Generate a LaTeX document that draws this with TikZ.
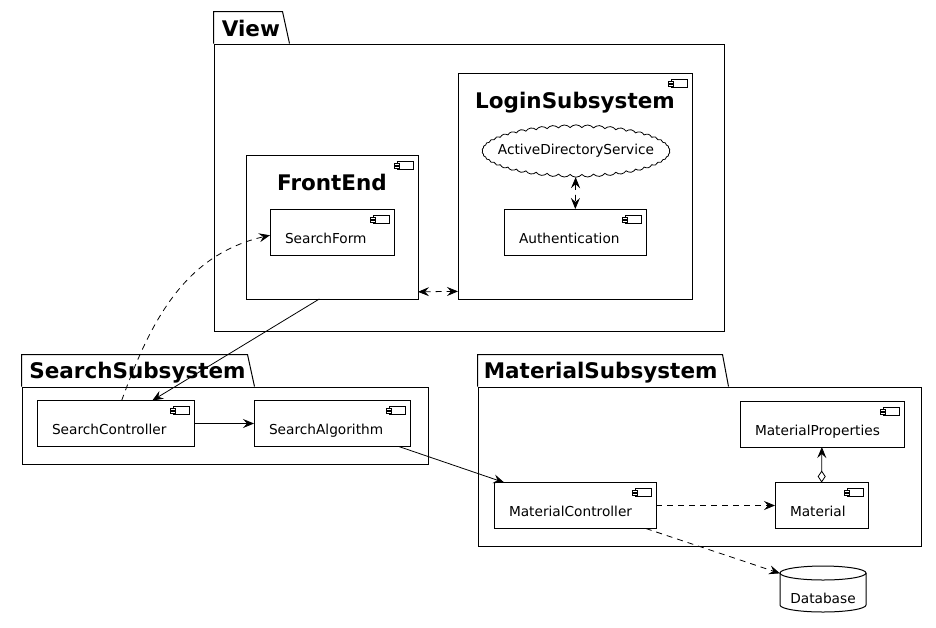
\documentclass[tikz,border=0pt]{standalone}
\usepackage{fontspec}
\setmainfont{DejaVu Sans}
\usepackage{tkz-graph}
\usetikzlibrary{arrows.meta}
\usetikzlibrary{shapes.symbols}

% small component icon in the upper right corner of a box
\newcommand{\CompIcon}[1]{%
	\draw[line width = 0.8pt, fill = white] (#1.north east) ++(-21, 6) rectangle ++(16, 8);
	\draw[line width = 0.8pt, fill = white] (#1.north east) ++(-24, 8) rectangle ++(5, 2);
	\draw[line width = 0.8pt, fill = white] (#1.north east) ++(-24, 11) rectangle ++(5, 2);
}

\begin{document}
\begin{tikzpicture}[x = 1pt, y = -1pt, line width = 1pt, font = \fontsize{13.7}{16}\selectfont, >={Stealth[length = 11pt, width = 9pt, inset = 4pt]}]
	\tikzstyle{VertexStyle} = []
	\tikzstyle{EdgeStyle} = []
	\tikzstyle{LabelStyle} = [inner sep = 0pt]
	\tikzstyle{titleFont} = [font = \fontsize{21.5}{26}\selectfont\bfseries]
	\tikzstyle{packageStyle} = [shape = rectangle, draw, inner sep = 0pt]
	\tikzstyle{frameStyle} = [shape = rectangle, draw, titleFont, inner sep = 0pt, text height = 0pt]
	\tikzstyle{componentStyle} = [shape = rectangle, draw, minimum height = 46pt, inner xsep = 15pt, inner ysep = 0pt, align = left, text height = 22pt, text depth = 0pt]
	\tikzstyle{cloudStyle} = [shape = cloud, draw, cloud puffs = 50, cloud puff arc = 100, cloud ignores aspect, inner xsep = -12pt, inner ysep = 10pt, line width = 0.8pt]
	\tikzstyle{databaseStyle} = [shape = rectangle, minimum width = 86pt, minimum height = 46pt, inner sep = 0pt, text height = 28pt, text depth = 0pt]
	\tikzstyle{depends} = [dash pattern = on 6pt off 5pt]
	\useasboundingbox (0, 0) rectangle (936, 627);
	\fill[white] (0, 0) rectangle (936, 627);
	% packages
	\node[packageStyle, minimum width = 510pt, minimum height = 287pt] (View) at (469, 187.5) {};
	\draw (View.north west) -- ++(0, -32) -- ++(69, 0) -- ++(7, 32);
	\node[titleFont, anchor = base west] (ViewTitle) at (218, 36) {View};
	\node[packageStyle, minimum width = 406pt, minimum height = 77pt] (SearchSubsystem) at (225, 425.5) {};
	\draw (SearchSubsystem.north west) -- ++(0, -32) -- ++(226, 0) -- ++(7, 32);
	\node[titleFont, anchor = base west] (SearchTitle) at (25.5, 378) {SearchSubsystem};
	\node[packageStyle, minimum width = 443pt, minimum height = 159pt] (MaterialSubsystem) at (699.5, 466.5) {};
	\draw (MaterialSubsystem.north west) -- ++(0, -32) -- ++(245, 0) -- ++(6, 32);
	\node[titleFont, anchor = base west] (MaterialTitle) at (480, 378) {MaterialSubsystem};
	% components
	\Vertex[style = {frameStyle, minimum width = 172pt, minimum height = 144pt, text depth = 74pt}, x = 332, y = 227, L = {FrontEnd}]{FrontEnd}
	\Vertex[style = {frameStyle, minimum width = 234pt, minimum height = 226pt, text depth = 156pt}, x = 575, y = 186, L = {LoginSubsystem}]{LoginSubsystem}
	\Vertex[style = cloudStyle, x = 576, y = 151, L = {ActiveDirectoryService}]{ActiveDirectoryService}
	\Vertex[style = {componentStyle, text width = 94pt}, x = 332, y = 232, L = {SearchForm}]{SearchForm}
	\Vertex[style = {componentStyle, text width = 112pt}, x = 575, y = 232, L = {Authentication}]{Authentication}
	\Vertex[style = {componentStyle, text width = 127pt}, x = 115.5, y = 423.5, L = {SearchController}]{SearchController}
	\Vertex[style = {componentStyle, text width = 126pt}, x = 332, y = 423.5, L = {SearchAlgorithm}]{SearchAlgorithm}
	\Vertex[style = {componentStyle, text width = 134pt}, x = 822, y = 424, L = {MaterialProperties}]{MaterialProperties}
	\Vertex[style = {componentStyle, text width = 132pt}, x = 575, y = 505.5, L = {MaterialController}]{MaterialController}
	\Vertex[style = {componentStyle, text width = 63pt}, x = 821.5, y = 505.5, L = {Material}]{Material}
	\Vertex[style = databaseStyle, x = 823, y = 589, L = {Database}]{Database}
	\draw (Database.north) ++(0, 7) ellipse [x radius = 43pt, y radius = 7pt];
	\draw (Database.north west) ++(0, 7) -- ++(0, 32) arc [start angle = 180, end angle = 360, x radius = 43pt, y radius = 7pt] -- ++(0, -32);
	\foreach \n in {FrontEnd, LoginSubsystem, SearchForm, Authentication, SearchController, SearchAlgorithm, MaterialProperties, MaterialController, Material}
		{\CompIcon{\n}}
	% connectors
	\Edge[style = {depends, <->}](FrontEnd.-37.5)(LoginSubsystem.222.4)
	\Edge[style = {depends, <->}](ActiveDirectoryService)(Authentication)
	\Edge[style = {depends, ->, out = 70, in = 193}](SearchController.75)(SearchForm.183)
	\Edge[style = {->}](FrontEnd.260)(SearchController.32)
	\Edge[style = {->}](SearchController)(SearchAlgorithm)
	\Edge[style = {->}](SearchAlgorithm.341)(MaterialController.162)
	\Edge[style = {depends, ->}](MaterialController)(Material)
	\Edge[style = {depends, ->}](MaterialController.342)(Database.160)
	\Edge[style = {{Diamond[open, length = 12pt, width = 8pt]}->}](Material)(MaterialProperties)
\end{tikzpicture}
\end{document}
